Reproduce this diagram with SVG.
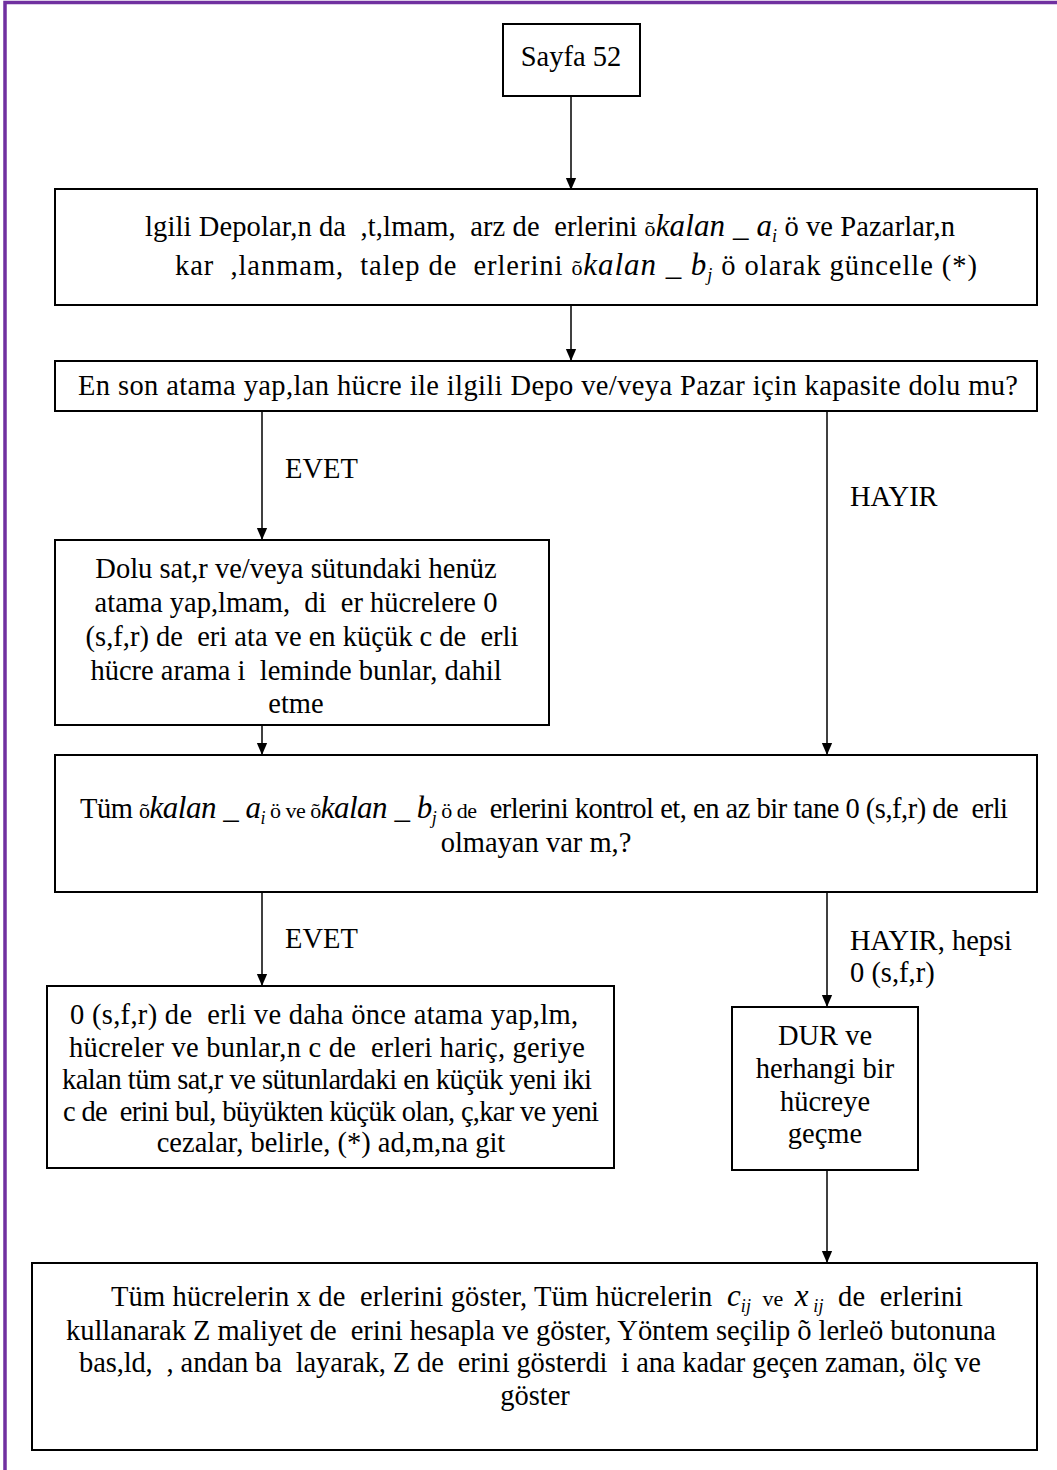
<svg xmlns="http://www.w3.org/2000/svg" width="1057" height="1470" viewBox="0 0 1057 1470">
  <style>
    .box { fill: #ffffff; stroke: #000000; stroke-width: 2; }
    .wire { fill: none; stroke: #000000; stroke-width: 1.5; }
    .t { font-family: "Liberation Serif", "Times New Roman", serif; font-size: 28.5px; fill: #000000; white-space: pre; }
    .c { text-anchor: middle; }
    .m { font-style: italic; font-size: 31px; }
    .q { font-size: 22px; }
    .sub { font-style: italic; font-size: 18px; }
  </style>
  <defs>
    <marker id="arrow" markerUnits="userSpaceOnUse" markerWidth="12" markerHeight="14" refX="14" refY="6" orient="auto" viewBox="0 0 14 12">
      <path d="M0,0 L14,6 L0,12 Z" fill="#000000"/>
    </marker>
  </defs>

  <!-- page frame -->
  <polyline points="5,1470 5,2.5 1057,2.5" fill="none" stroke="#7030A0" stroke-width="3.5"/>

  <!-- connectors and branch labels -->
  <g id="connectors">
    <path class="wire" d="M571,96 V190" marker-end="url(#arrow)"/>
    <path class="wire" d="M571,305 V361" marker-end="url(#arrow)"/>
    <path class="wire" d="M262,411 V540" marker-end="url(#arrow)"/>
    <path class="wire" d="M827,411 V755" marker-end="url(#arrow)"/>
    <path class="wire" d="M262,725 V755" marker-end="url(#arrow)"/>
    <path class="wire" d="M262,892 V986" marker-end="url(#arrow)"/>
    <path class="wire" d="M827,892 V1007" marker-end="url(#arrow)"/>
    <path class="wire" d="M827,1170 V1263" marker-end="url(#arrow)"/>
    <text class="t" x="285" y="478">EVET</text>
    <text class="t" x="850" y="506">HAYIR</text>
    <text class="t" x="285" y="948">EVET</text>
    <text class="t" x="850" y="950">HAYIR, hepsi</text>
    <text class="t" x="850" y="982">0 (s,f,r)</text>
  </g>

  <g id="node-start">
    <rect class="box" x="503" y="24" width="137" height="72"/>
    <text class="t c" x="571" y="66">Sayfa 52</text>
  </g>

  <g id="node-update">
    <rect class="box" x="55" y="189" width="982" height="116"/>
    <text class="t c" x="550" y="236" textLength="810">lgili Depolar,n da  ,t,lmam,  arz de  erlerini <tspan class="q">õ</tspan><tspan class="m">kalan _ a</tspan><tspan class="sub" dy="6">i</tspan><tspan dy="-6"> ö ve Pazarlar,n</tspan></text>
    <text class="t c" x="576" y="275" textLength="802">kar  ,lanmam,  talep de  erlerini <tspan class="q">õ</tspan><tspan class="m">kalan _ b</tspan><tspan class="sub" dy="6">j</tspan><tspan dy="-6"> ö olarak güncelle (*)</tspan></text>
  </g>

  <g id="node-capacity">
    <rect class="box" x="55" y="361" width="982" height="50"/>
    <text class="t c" x="548" y="395" textLength="940">En son atama yap,lan hücre ile ilgili Depo ve/veya Pazar için kapasite dolu mu?</text>
  </g>

  <g id="node-fill">
    <rect class="box" x="55" y="540" width="494" height="185"/>
    <text class="t c" x="296" y="578">Dolu sat,r ve/veya sütundaki henüz</text>
    <text class="t c" x="296" y="612">atama yap,lmam,  di  er hücrelere 0</text>
    <text class="t c" x="302" y="646">(s,f,r) de  eri ata ve en küçük c de  erli</text>
    <text class="t c" x="296" y="680">hücre arama i  leminde bunlar, dahil</text>
    <text class="t c" x="296" y="713">etme</text>
  </g>

  <g id="node-check">
    <rect class="box" x="55" y="755" width="982" height="137"/>
    <text class="t c" x="544" y="818" textLength="928">Tüm <tspan class="q">õ</tspan><tspan class="m">kalan _ a</tspan><tspan class="sub" dy="6">i</tspan><tspan class="q" dy="-6"> ö ve õ</tspan><tspan class="m">kalan _ b</tspan><tspan class="sub" dy="6">j</tspan><tspan class="q" dy="-6"> ö de</tspan>  erlerini kontrol et, en az bir tane 0 (s,f,r) de  erli</text>
    <text class="t c" x="536" y="852">olmayan var m,?</text>
  </g>

  <g id="node-penalty">
    <rect class="box" x="47" y="986" width="567" height="182"/>
    <text class="t c" x="324" y="1024" textLength="508">0 (s,f,r) de  erli ve daha önce atama yap,lm,</text>
    <text class="t c" x="327" y="1057" textLength="516">hücreler ve bunlar,n c de  erleri hariç, geriye</text>
    <text class="t c" x="327" y="1089" textLength="530">kalan tüm sat,r ve sütunlardaki en küçük yeni iki</text>
    <text class="t c" x="331" y="1121" textLength="536">c de  erini bul, büyükten küçük olan, ç,kar ve yeni</text>
    <text class="t c" x="331" y="1152">cezalar, belirle, (*) ad,m,na git</text>
  </g>

  <g id="node-stop">
    <rect class="box" x="732" y="1007" width="186" height="163"/>
    <text class="t c" x="825" y="1045">DUR ve</text>
    <text class="t c" x="825" y="1078">herhangi bir</text>
    <text class="t c" x="825" y="1111">hücreye</text>
    <text class="t c" x="825" y="1143">geçme</text>
  </g>

  <g id="node-result">
    <rect class="box" x="32" y="1263" width="1005" height="187"/>
    <text class="t c" x="537" y="1306" textLength="852">Tüm hücrelerin x de  erlerini göster, Tüm hücrelerin  <tspan class="m">c</tspan><tspan class="sub" dy="6">ij</tspan><tspan class="q" dy="-6">  ve  </tspan><tspan class="m">x</tspan><tspan class="sub" dy="6"> ij</tspan><tspan dy="-6">  de  erlerini</tspan></text>
    <text class="t c" x="531" y="1340" textLength="930">kullanarak Z maliyet de  erini hesapla ve göster, Yöntem seçilip õ lerleö butonuna</text>
    <text class="t c" x="530" y="1372" textLength="902">bas,ld,  , andan ba  layarak, Z de  erini gösterdi  i ana kadar geçen zaman, ölç ve</text>
    <text class="t c" x="535" y="1405">göster</text>
  </g>
</svg>
